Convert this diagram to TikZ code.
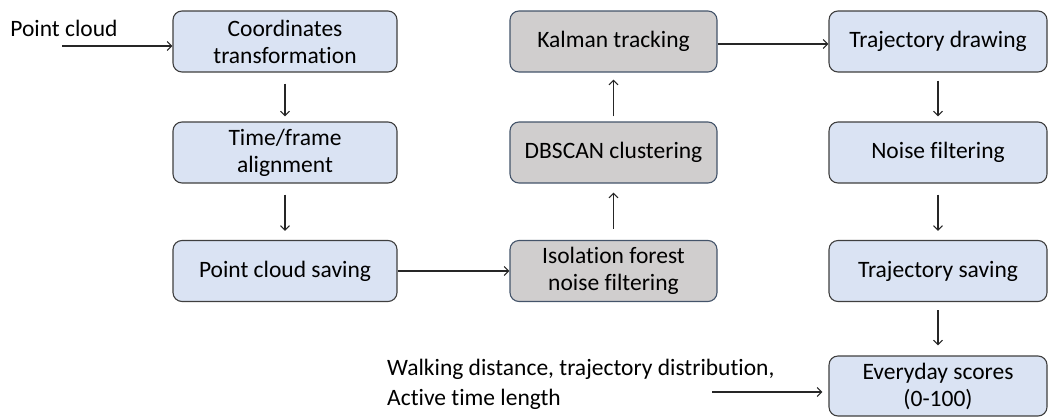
\documentclass[tikz,border=0pt]{standalone}
\usepackage{fontspec}
\setmainfont{Carlito}[Ligatures=NoCommon]
\usetikzlibrary{arrows.meta}
\definecolor{bluefill}{HTML}{DAE3F3}
\definecolor{blueborder}{HTML}{3F3F3F}
\definecolor{grayfill}{HTML}{D0CECE}
\definecolor{grayborder}{HTML}{44546A}
\begin{document}
\begin{tikzpicture}[x=1pt,y=-1pt,
  bluebox/.style={draw=blueborder, fill=bluefill, line width=1.1pt, rounded corners=9pt,
    align=center, inner sep=2pt, font=\fontsize{23.5}{27}\selectfont},
  graybox/.style={draw=grayborder, fill=grayfill, line width=1.1pt, rounded corners=9pt,
    align=center, inner sep=2pt, font=\fontsize{23.5}{27}\selectfont},
  colL/.style={minimum width=224pt, minimum height=61pt},
  colM/.style={minimum width=207pt, minimum height=61pt},
  colR/.style={minimum width=218pt, minimum height=61pt},
  flow/.style={draw=black!85, line width=1.1pt, -{Straight Barb[length=4.5pt,width=9pt,line width=1.1pt]}},
  plain/.style={font=\fontsize{23.5}{30}\selectfont, inner sep=0pt}
]
\useasboundingbox (0,0) rectangle (1049,418);
% left column
\node[bluebox,colL] (c1) at (285,41.5) {Coordinates\\transformation};
\node[bluebox,colL] (c2) at (285,152.5) {Time/frame\\alignment};
\node[bluebox,colL] (c3) at (285,271) {Point cloud saving};
% middle column
\node[graybox,colM] (m1) at (613.5,41.5) {Kalman tracking};
\node[graybox,colM] (m2) at (613.5,152.5) {DBSCAN clustering};
\node[graybox,colM] (m3) at (613.5,271) {Isolation forest\\noise filtering};
% right column
\node[bluebox,colR] (r1) at (938,41.5) {Trajectory drawing};
\node[bluebox,colR] (r2) at (938,152.5) {Noise filtering};
\node[bluebox,colR] (r3) at (938,271) {Trajectory saving};
\node[bluebox,colR,minimum height=60pt] (r4) at (938,386) {Everyday scores\\(0-100)};
% texts
\node[plain, anchor=center] (pc) at (64,28.5) {Point cloud};
\coordinate (pcs) at (62,46);
\node[plain, anchor=west, align=left] (wd) at (387,384) {Walking distance, trajectory distribution,\\Active time length};
\coordinate (wds) at (712,392);
% connectors
\draw[flow] (pcs) -- (pcs -| c1.west);
\draw[flow, shorten <=11pt, shorten >=5pt] (c1) -- (c2);
\draw[flow, shorten <=11pt, shorten >=9pt] (c2) -- (c3);
\draw[flow] (c3) -- (m3);
\draw[flow, shorten <=11pt, shorten >=9pt] (m3) -- (m2);
\draw[flow, shorten <=5pt, shorten >=7pt] (m2) -- (m1);
\draw[flow] (m1.east |- 0,44) -- (r1.west |- 0,44);
\draw[flow, shorten <=8pt, shorten >=5pt] (r1) -- (r2);
\draw[flow, shorten <=11pt, shorten >=9pt] (r2) -- (r3);
\draw[flow, shorten <=8pt, shorten >=10pt] (r3) -- (r4);
\draw[flow, shorten >=6pt] (wds) -- (wds -| r4.west);
\end{tikzpicture}
\end{document}
